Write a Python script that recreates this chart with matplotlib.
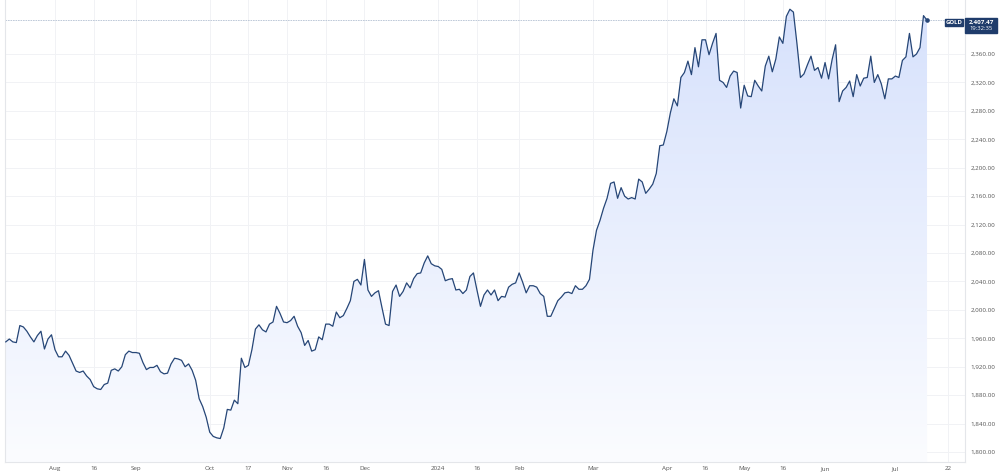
import matplotlib
matplotlib.use("Agg")
import matplotlib.pyplot as plt
import numpy as np
from matplotlib.colors import LinearSegmentedColormap
from matplotlib.patches import Rectangle

# Daily gold closes, one per weekday starting 2023-07-12
start = "2023-07-12"
jul23 = [1955, 1959, 1955, 1954, 1978, 1976, 1970, 1962, 1955, 1964, 1970, 1945, 1959, 1965]
aug23 = [1944, 1934, 1934, 1942, 1936, 1925, 1914, 1912, 1914, 1907, 1902, 1892, 1889, 1888,
         1895, 1897, 1915, 1917, 1914, 1920, 1937, 1942, 1940]
sep23 = [1940, 1939, 1926, 1916, 1919, 1919, 1922, 1913, 1910, 1911, 1924, 1932, 1931, 1929,
         1920, 1924, 1915, 1901, 1875, 1864, 1849]
oct23 = [1828, 1822, 1820, 1819, 1834, 1860, 1859, 1873, 1868, 1932, 1919, 1922, 1944, 1973,
         1979, 1972, 1969, 1980, 1983, 2005, 1995, 1983]
nov23 = [1982, 1985, 1991, 1977, 1968, 1950, 1957, 1942, 1944, 1962, 1958, 1980, 1980, 1977,
         1997, 1989, 1992, 2002, 2013, 2040, 2043, 2035]
dec23 = [2071, 2028, 2019, 2024, 2027, 2003, 1980, 1978, 2026, 2035, 2019, 2026, 2038, 2031,
         2044, 2051, 2052, 2066, 2076, 2065, 2062]
jan24 = [2061, 2057, 2041, 2043, 2044, 2028, 2029, 2023, 2028, 2047, 2052, 2028, 2005, 2021,
         2028, 2021, 2028, 2013, 2019, 2018, 2032, 2036, 2038]
feb24 = [2052, 2039, 2024, 2034, 2034, 2032, 2023, 2019, 1991, 1991, 2002, 2013, 2018, 2024,
         2025, 2023, 2034, 2029, 2029, 2034, 2043]
mar24 = [2084, 2112, 2126, 2143, 2157, 2178, 2180, 2157, 2172, 2160, 2156, 2158, 2156, 2184,
         2180, 2164, 2170, 2177, 2192, 2231, 2232]
apr24 = [2251, 2277, 2297, 2287, 2327, 2334, 2350, 2331, 2369, 2342, 2380, 2380, 2359, 2375,
         2389, 2323, 2320, 2313, 2329, 2336, 2334, 2284]
may24 = [2316, 2301, 2300, 2323, 2315, 2308, 2343, 2357, 2335, 2353, 2384, 2375, 2413, 2423,
         2419, 2375, 2327, 2332, 2345, 2357, 2337, 2341, 2326]
jun24 = [2348, 2325, 2352, 2373, 2293, 2308, 2313, 2322, 2300, 2331, 2315, 2326, 2327, 2357,
         2320, 2331, 2318, 2297, 2325, 2325]
jul24 = [2329, 2327, 2351, 2356, 2389, 2356, 2360, 2369, 2414, 2407.47]

last_label = "2,407.47"
last_time = "19:32:35"
symbol = "GOLD"

tick_dates = ["2023-08-01", "2023-08-16", "2023-09-01", "2023-10-02", "2023-10-17",
              "2023-11-01", "2023-11-16", "2023-12-01", "2024-01-01", "2024-01-16",
              "2024-02-01", "2024-03-01", "2024-04-01", "2024-04-16", "2024-05-01",
              "2024-05-16", "2024-06-03", "2024-07-01", "2024-07-22"]
tick_labels = ["Aug", "16", "Sep", "Oct", "17", "Nov", "16", "Dec", "2024", "16",
               "Feb", "Mar", "Apr", "16", "May", "16", "Jun", "Jul", "22"]
y_ticks = np.arange(1800, 2361, 40)

prices = np.array(jul23 + aug23 + sep23 + oct23 + nov23 + dec23 + jan24 + feb24
                  + mar24 + apr24 + may24 + jun24 + jul24, dtype=float)
x = np.arange(len(prices))
tick_pos = [np.busday_count(start, d) for d in tick_dates]

line_col = "#264677"
tag_col = "#1f3c6b"
grid_col = "#f1f2f5"
text_col = "#555555"

fig = plt.figure(figsize=(10, 4.76), dpi=100)
ax = fig.add_axes([0.005, 1 - 462 / 476, 0.96, 462 / 476])
xmin, xmax = -0.22, 272.8
ymin, ymax = 1786, 2436
ax.set_xlim(xmin, xmax)
ax.set_ylim(ymin, ymax)

# gradient area fill, clipped to the area under the line
cmap = LinearSegmentedColormap.from_list("fill", ["#fbfcff", "#d6e1fc"])
grad = np.linspace(0, 1, 256).reshape(-1, 1)
img = ax.imshow(grad, cmap=cmap, origin="lower", aspect="auto",
                extent=[xmin, xmax, ymin, ymax], zorder=1)
poly = ax.fill_between(x, prices, ymin, color="none", lw=0)
img.set_clip_path(poly.get_paths()[0], transform=ax.transData)

ax.plot(x, prices, color=line_col, lw=0.9, zorder=3)
ax.plot(x[-1], prices[-1], "o", color=line_col, ms=2.3, zorder=4)
ax.axhline(prices[-1], xmax=(x[-1] + 4.8 - xmin) / (xmax - xmin), color="#b5c2d3",
           lw=0.6, ls=(0, (2, 1)), zorder=2)

ax.set_xticks(tick_pos)
ax.set_xticklabels(tick_labels)
ax.set_yticks(y_ticks)
ax.set_yticklabels([f"{v:,.2f}" for v in y_ticks])
ax.yaxis.tick_right()
ax.tick_params(axis="both", length=0, labelsize=4.5, labelcolor=text_col)
ax.tick_params(axis="x", pad=3)
ax.tick_params(axis="y", pad=4)
for lab in ax.get_xticklabels() + ax.get_yticklabels():
    lab.set_fontfamily("Open Sans")
ax.grid(True, color=grid_col, lw=0.7, zorder=0)
ax.set_axisbelow(True)
ax.spines["top"].set_visible(False)
for side in ["left", "right", "bottom"]:
    ax.spines[side].set_color("#e4e6ea")
    ax.spines[side].set_linewidth(0.8)

# last price tags
fig.patches.append(Rectangle((945 / 1000, 1 - 26 / 476), 18 / 1000, 7.5 / 476,
                             transform=fig.transFigure, color=tag_col, zorder=5))
fig.text(954 / 1000, 1 - 22.3 / 476, symbol, color="white", fontsize=4.3,
         ha="center", va="center", family="Open Sans", weight="bold", zorder=6)
fig.patches.append(Rectangle((965 / 1000, 1 - 32.5 / 476), 32 / 1000, 14 / 476,
                             transform=fig.transFigure, color=tag_col, zorder=5))
fig.text(981 / 1000, 1 - 22 / 476, last_label, color="white", fontsize=4.5,
         ha="center", va="center", family="Open Sans", weight="bold", zorder=6)
fig.text(981 / 1000, 1 - 28.6 / 476, last_time, color="white", fontsize=4.2,
         ha="center", va="center", family="Open Sans", zorder=6)

fig.savefig("out.png", dpi=100, facecolor="white")
